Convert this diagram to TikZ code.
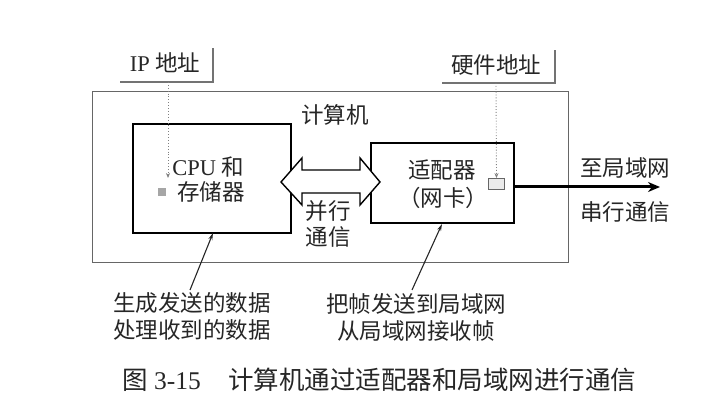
\documentclass[tikz,border=0pt]{standalone}
\usepackage{fontspec}
\setmainfont{Liberation Serif}
\newfontfamily\cjk{Noto Sans CJK SC}
\usetikzlibrary{arrows.meta}
\tikzset{
  txt/.style={inner sep=0pt, font=\fontsize{22.5}{27}\selectfont\cjk, align=center, text=black!85},
  bigbox/.style={draw=black, line width=2.4pt, fill=white},
  frame/.style={draw=black!60, line width=1pt},
  bracket/.style={draw=black!55, line width=1.6pt},
  dotarr/.style={draw=black!50, dotted, line width=0.9pt, -{Stealth[length=5pt,width=4pt]}},
  pointer/.style={draw=black!85, line width=1.1pt, {Stealth[length=7pt,width=4pt]}-},
  captxt/.style={inner sep=0pt, font=\fontsize{25.5}{28}\selectfont, text=black!85, anchor=west},
}
\begin{document}
\begin{tikzpicture}[x=1pt,y=-1pt]
\useasboundingbox (0,0) rectangle (711,419);
% outer computer frame
\draw[frame] (92,92) rectangle (568,263);
\node[txt] (comp) at (335,115) {计算机};
% boxes
\node[bigbox, minimum width=158pt, minimum height=109pt, inner sep=0pt] (cpu) at (212,178.5) {};
\node[bigbox, minimum width=143pt, minimum height=80pt, inner sep=0pt] (nic) at (442.5,183) {};
\node[txt] (cput1) at (208,167) {{\rmfamily CPU} 和};
\node[txt] (cput2) at (211,192) {存储器};
\node[txt] (nict1) at (442,170) {适配器};
\node[txt] (nict2) at (443,198) {（网卡）};
% double arrow (parallel bus)
\draw[line width=1.4pt, fill=white, line join=miter]
  (281,182) -- (302,158) -- (302,170) -- (360,170) -- (360,158) -- (380,182)
  -- (360,205) -- (360,193) -- (302,193) -- (302,205) -- cycle;
\node[txt] (par1) at (328,211) {并行};
\node[txt] (par2) at (328,237) {通信};
% labels with brackets
\node[txt] (iplabel) at (165,63) {{\rmfamily IP} 地址};
\draw[bracket] (120,82) -- (213,82) -- (213,48);
\node[txt] (hwlabel) at (496,65) {硬件地址};
\draw[bracket] (442,83) -- (555,83) -- (555,50);
% small squares
\node[draw=none, fill=black!35, minimum width=8pt, minimum height=8pt, inner sep=0pt] (sq1) at (162,192) {};
\node[draw=black!60, fill=black!8, line width=0.8pt, minimum width=16pt, minimum height=11pt, inner sep=0pt] (sq2) at (496.5,184) {};
\coordinate (ipc) at (168,82);
\coordinate (hwc) at (496,83);
\draw[dotarr] (ipc) -- (168,178);
\draw[dotarr] (hwc) -- (sq2.north);
% serial link
\coordinate (lan) at (660,187);
\draw[line width=3pt, -{Stealth[length=12pt,width=10pt]}] (nic.east |- lan) -- (lan);
\node[txt] (tolan) at (625,168) {至局域网};
\node[txt] (serial) at (625,212) {串行通信};
% bottom annotations
\node[txt] (cpudesc) at (192,316) {生成发送的数据\\处理收到的数据};
\node[txt] (nicdesc) at (416,317) {把帧发送到局域网\\从局域网接收帧};
\coordinate (p1) at (190,290);
\coordinate (p2) at (412,290);
\draw[pointer] (213,233) -- (p1);
\draw[pointer] (442,224) -- (p2);
% caption
\node[captxt] (capnum) at (122,380) {{\cjk 图} 3-15};
\node[captxt] (cap) at (228,380) {\cjk 计算机通过适配器和局域网进行通信};
\end{tikzpicture}
\end{document}
